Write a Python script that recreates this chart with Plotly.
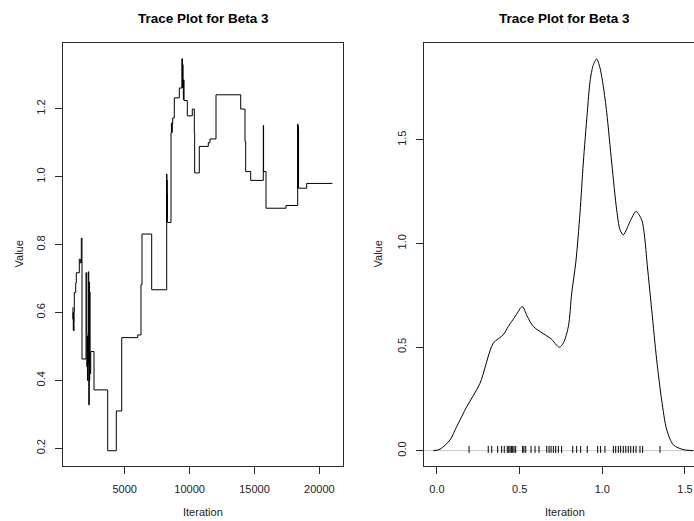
import plotly.graph_objects as go

# ---------------- data ----------------
trace_iter = [1000, 1015, 1030, 1040, 1055, 1070, 1085, 1100, 1117, 1225, 1271, 1502, 1580, 1657,
              1710, 2019, 2070, 2090, 2110, 2130, 2150, 2173, 2196, 2230, 2273, 2290, 2305, 2327,
              2381, 2635, 3690, 4353, 4769, 6002, 6256, 6333, 7080,
              8236, 8245, 8255, 8265, 8275, 8282, 8567, 8600, 8630, 8660, 8698, 8821, 9206,
              9420, 9430, 9440, 9450, 9470, 9490, 9520, 9540, 9569, 9823, 10208, 10362, 10390,
              10747, 11440, 11572, 12034, 13937, 14268, 14320, 14707, 15678, 15700, 15886, 17427,
              18328, 18340, 18350, 18365, 18380, 18395, 19022, 21000]
trace_val = [0.615, 0.580, 0.600, 0.548, 0.580, 0.546, 0.575, 0.600, 0.659, 0.687, 0.717, 0.757, 0.746, 0.819,
             0.463, 0.717, 0.540, 0.440, 0.530, 0.400, 0.520, 0.450, 0.720, 0.328, 0.690, 0.400, 0.660, 0.420,
             0.485, 0.372, 0.193, 0.310, 0.526, 0.534, 0.682, 0.831, 0.667,
             1.008, 0.870, 0.990, 0.880, 0.950, 0.865, 1.128, 1.158, 1.130, 1.155, 1.173, 1.232, 1.261,
             1.347, 1.262, 1.347, 1.265, 1.330, 1.285, 1.227, 1.285, 1.224, 1.179, 1.199, 1.128, 1.011,
             1.089, 1.100, 1.111, 1.241, 1.199, 1.104, 1.015, 0.989, 1.151, 1.015, 0.907, 0.915,
             1.155, 0.966, 1.150, 0.970, 1.140, 0.966, 0.980, 0.980]

dens_x = [-0.022, 0.018, 0.079, 0.119, 0.18, 0.26, 0.341, 0.401, 0.431, 0.475, 0.516, 0.545,
          0.583, 0.664, 0.69, 0.74, 0.765, 0.795, 0.815, 0.84, 0.865, 0.885, 0.909, 0.926, 0.945,
          0.966, 0.985, 1.006, 1.027, 1.057, 1.087, 1.107, 1.127, 1.148, 1.168, 1.204, 1.238, 1.258,
          1.269, 1.299, 1.329, 1.359, 1.39, 1.43, 1.49, 1.55]
dens_y = [0.0, 0.007, 0.052, 0.116, 0.212, 0.325, 0.519, 0.559, 0.599, 0.650, 0.695, 0.650,
          0.599, 0.554, 0.540, 0.499, 0.520, 0.600, 0.760, 0.910, 1.146, 1.388, 1.630, 1.782, 1.860,
          1.890, 1.850, 1.758, 1.630, 1.388, 1.162, 1.066, 1.041, 1.070, 1.106, 1.154, 1.114, 1.017,
          0.921, 0.679, 0.438, 0.245, 0.100, 0.028, 0.005, 0.0]

rug_x = [0.194, 0.31, 0.331, 0.367, 0.391, 0.407, 0.425, 0.434, 0.442, 0.45, 0.458, 0.466, 0.476,
         0.518, 0.526, 0.537, 0.569, 0.593, 0.617, 0.664, 0.678, 0.69, 0.704, 0.718, 0.734, 0.754,
         0.821, 0.845, 0.869, 0.909, 0.972, 0.99, 1.016, 1.067, 1.081, 1.097, 1.111, 1.127, 1.142,
         1.157, 1.172, 1.188, 1.204, 1.228, 1.244, 1.349]

title_text = "Trace Plot for Beta 3"
x_label = "Iteration"
y_label = "Value"
left_xticks = [5000, 10000, 15000, 20000]
left_yticks = [0.2, 0.4, 0.6, 0.8, 1.0, 1.2]
right_xticks = [0.0, 0.5, 1.0, 1.5]
right_yticks = [0.0, 0.5, 1.0, 1.5]

# ---------------- layout geometry ----------------
W, H = 694, 521
ML, MR, MT, MB = 63, 0, 43, 55
PW = W - ML - MR
PH = H - MT - MB


def px(xp):
    return (xp - ML) / PW


def py(yp):
    return (H - MB - yp) / PH


FONT = "Liberation Sans, Arial, Helvetica, sans-serif"
AX = "#2a2a2a"

fig = go.Figure()

fig.add_trace(go.Scatter(x=trace_iter, y=trace_val, mode="lines", line=dict(color="black", width=1, shape="hv"),
                         xaxis="x", yaxis="y", showlegend=False, hoverinfo="skip"))
fig.add_trace(go.Scatter(x=dens_x, y=dens_y, mode="lines",
                         line=dict(color="black", width=1, shape="spline", smoothing=0.8),
                         xaxis="x2", yaxis="y2", showlegend=False, hoverinfo="skip"))
fig.add_trace(go.Scatter(x=rug_x, y=[0.006] * len(rug_x), mode="markers",
                         marker=dict(symbol="line-ns", size=5, line=dict(color="black", width=1)),
                         xaxis="x2", yaxis="y2", showlegend=False, hoverinfo="skip"))

axis_common = dict(showgrid=False, zeroline=False, ticks="outside", ticklen=7, tickwidth=1,
                   tickcolor=AX, linecolor=AX, linewidth=1, showline=True,
                   tickfont=dict(family=FONT, size=11, color="#222"))

fig.update_layout(
    width=W, height=H,
    margin=dict(l=ML, r=MR, t=MT, b=MB),
    paper_bgcolor="white", plot_bgcolor="white",
    xaxis=dict(domain=[0, px(343)], range=[246, 21818], tickvals=left_xticks,
               ticktext=[str(v) for v in left_xticks], mirror=True, anchor="y",
               ticklabelstandoff=6, **axis_common),
    yaxis=dict(domain=[0, 1], range=[0.148, 1.3935], tickvals=left_yticks,
               ticktext=[f"{v:.1f}" for v in left_yticks], mirror=True, anchor="x",
               tickangle=-90, ticklabelstandoff=6, **axis_common),
    xaxis2=dict(domain=[px(424), 1], range=[-0.0786, (694 - 437) / 165.3], tickvals=right_xticks,
                ticktext=[f"{v:.1f}" for v in right_xticks], mirror=True, anchor="y2",
                ticklabelstandoff=6, **axis_common),
    yaxis2=dict(domain=[0, 1], range=[-0.074, 1.967], tickvals=right_yticks,
                ticktext=[f"{v:.1f}" for v in right_yticks], mirror=False, anchor="x2",
                tickangle=-90, ticklabelstandoff=6, **axis_common),
)

# zero reference line in density panel
fig.add_shape(type="line", xref="x2 domain", yref="y2", x0=0, x1=1, y0=0, y1=0,
              line=dict(color="#c8c8c8", width=1), layer="below")

ann = []
for cx in (203, 564.5):
    ann.append(dict(text=f"<b>{title_text}</b>", x=px(cx), y=py(18), xref="paper", yref="paper",
                    showarrow=False, xanchor="center", yanchor="middle",
                    font=dict(family=FONT, size=13.5, color="black")))
    ann.append(dict(text=x_label, x=px(cx), y=py(512), xref="paper", yref="paper",
                    showarrow=False, xanchor="center", yanchor="middle",
                    font=dict(family=FONT, size=11, color="#222")))
for vx in (18, 377):
    ann.append(dict(text=y_label, x=px(vx), y=py(254.5), xref="paper", yref="paper",
                    showarrow=False, xanchor="center", yanchor="middle", textangle=-90,
                    font=dict(family=FONT, size=11, color="#222")))
fig.update_layout(annotations=ann)

fig.write_html("out.html")
